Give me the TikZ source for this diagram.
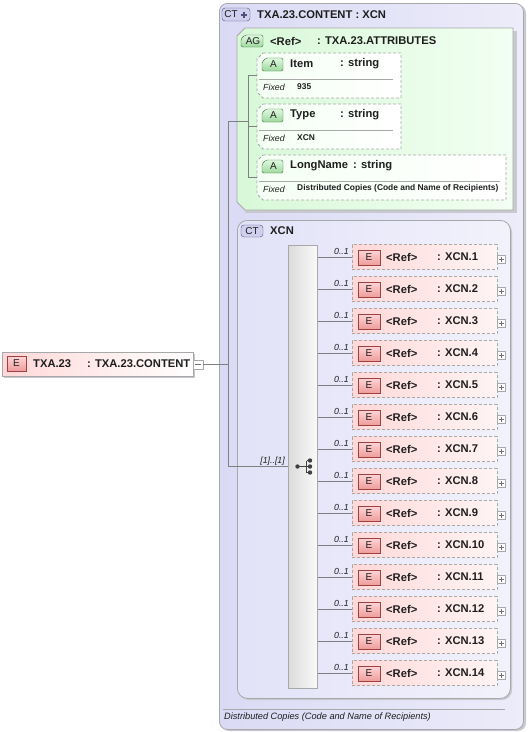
\documentclass[tikz,border=0pt]{standalone}
\usepackage{fontspec}
\setmainfont{Liberation Sans}
\usetikzlibrary{calc}
\definecolor{ctfill}{HTML}{DADAF5}
\definecolor{ctfillb}{HTML}{ECECFA}
\definecolor{xcnfill}{HTML}{E2E2F8}
\definecolor{xcnfillb}{HTML}{F2F2FC}
\definecolor{bordergray}{HTML}{A8A8A8}
\definecolor{shadowc}{HTML}{C8C8D0}
\definecolor{agfill}{HTML}{D8F8D8}
\definecolor{agfillb}{HTML}{F2FFF2}
\definecolor{atfill}{HTML}{F4FFF4}
\definecolor{efill}{HTML}{FFD8D8}
\definecolor{efillb}{HTML}{FFF4F4}
\definecolor{ebadge}{HTML}{F09C9C}
\definecolor{ebadgeb}{HTML}{FFD6D6}
\definecolor{ebadgeline}{HTML}{A04040}
\definecolor{abadge}{HTML}{9ED89E}
\definecolor{abadgeb}{HTML}{E0F8E0}
\definecolor{abadgeline}{HTML}{3C7A3C}
\definecolor{ctbadge}{HTML}{D0D0EE}
\definecolor{ctbadgeline}{HTML}{50507A}
\definecolor{linec}{HTML}{808080}
\definecolor{textc}{HTML}{1E1E1E}
\newcommand\chbox[7]{% name, x0, y0, x1, y1, chamfer, style
  \draw[#7] ({#2+#6},#3) -- (#4,#3) -- (#4,#5) -- ({#2+#6},#5) -- (#2,{#5-#6}) -- (#2,{#3+#6}) -- cycle;
  \node[inner sep=0, minimum width={#4-#2}, minimum height={#5-#3}, anchor=north west] (#1) at (#2,#3) {};
}
\newcommand\tabbadge[6]{% name, x0, y0, x1, y1, text
  \draw[draw=abadgeline, top color=abadgeb, bottom color=abadge, rounded corners=1.5] ({#2+4},#3) -- (#4,#3) -- (#4,#5) -- (#2,#5) -- (#2,{#3+4}) -- cycle;
  \node[badgetxt] (#1) at ({(#2+#4)/2+1},{(#3+#5)/2}) {#6};
}
\begin{document}
\begin{tikzpicture}[x=1pt,y=-1pt,
  lbl/.style={anchor=west, inner sep=0, font=\fontsize{11.2}{13}\selectfont\bfseries, text=textc},
  smallv/.style={anchor=west, inner sep=0, font=\fontsize{8.4}{10}\selectfont\bfseries, text=textc},
  fixedl/.style={anchor=west, inner sep=0, font=\fontsize{8.8}{10}\selectfont\itshape, text=textc},
  card/.style={anchor=east, inner sep=0, font=\fontsize{8.8}{10}\selectfont\itshape, text=textc},
  badgetxt/.style={inner sep=0, font=\fontsize{10}{11}\selectfont, text=textc},
  conn/.style={draw=linec, line width=0.7},
  ebox/.style={draw=bordergray, dash pattern=on 3pt off 2pt, left color=efill, right color=efillb, minimum width=145, minimum height=25, inner sep=0, line width=0.8},
  ebadgest/.style={draw=ebadgeline, top color=ebadgeb, bottom color=ebadge, minimum width=22, minimum height=15, inner sep=0, font=\fontsize{10}{11}\selectfont, text=textc},
  pmbox/.style={draw=bordergray, fill=white, minimum width=8, minimum height=8, inner sep=0, line width=0.5},
  atbox/.style={draw=bordergray, dash pattern=on 3pt off 2pt, left color=atfill, right color=white, line width=0.8},
]
\useasboundingbox (0,0) rectangle (528,732);
% outer complex type
\fill[shadowc, rounded corners=8] (221,5) rectangle (526,731);
\node[draw=bordergray, rounded corners=8, left color=ctfill, right color=ctfillb, minimum width=304, minimum height=726, inner sep=0, anchor=north west, line width=0.8] (ct) at (219,3) {};
\draw[draw=ctbadgeline, fill=ctbadge, rounded corners=3] (222,8) rectangle (250,21);
\node[badgetxt] (ctbt) at (231,14.5) {CT};
\draw[ctbadgeline, line width=2] (241,14.5) -- (247,14.5) (244,11.5) -- (244,17.5);
\node[lbl] (cttitle) at (257,14.5) {TXA.23.CONTENT : XCN};
% attribute group
\fill[shadowc] (245,31) -- (517,31) -- (517,213) -- (245,213) -- cycle;
\chbox{ag}{237}{28}{513}{210}{8}{draw=bordergray, left color=agfill, right color=agfillb, line width=0.8}
\tabbadge{agb}{241}{35}{263}{47}{AG}
\node[lbl] (agref) at (270,41) {<Ref>};
\node[lbl] (agtype) at (317,41) {: TXA.23.ATTRIBUTES};
% attributes
\chbox{item}{257}{53}{401}{98}{6}{atbox}
\tabbadge{itemb}{262}{58}{283}{71}{A}
\node[lbl] (itemn) at (290,64) {Item};
\node[lbl] (itemt) at (340,64) {: string};
\draw[bordergray] (259,79.5) -- (393,79.5);
\node[fixedl] (itemf) at (263,87) {Fixed};
\node[smallv] (itemv) at (297,86.5) {935};
\chbox{type}{257}{104}{401}{149}{6}{atbox}
\tabbadge{typeb}{262}{109}{283}{122}{A}
\node[lbl] (typen) at (290,115) {Type};
\node[lbl] (typet) at (340,115) {: string};
\draw[bordergray] (259,130.5) -- (393,130.5);
\node[fixedl] (typef) at (263,138) {Fixed};
\node[smallv] (typev) at (297,137.5) {XCN};
\chbox{long}{257}{155}{506}{200}{6}{atbox}
\tabbadge{longb}{262}{160}{283}{173}{A}
\node[lbl] (longn) at (290,166) {LongName};
\node[lbl] (longt) at (353,166) {: string};
\draw[bordergray] (259,181.5) -- (500,181.5);
\node[fixedl] (longf) at (263,189) {Fixed};
\node[smallv] (longv) at (297,188.5) {Distributed Copies (Code and Name of Recipients)};
% XCN complex type
\fill[shadowc, rounded corners=10] (239,222) rectangle (512,700);
\node[draw=bordergray, rounded corners=10, left color=xcnfill, right color=xcnfillb, minimum width=273, minimum height=478, inner sep=0, anchor=north west, line width=0.8] (xcn) at (237,220) {};
\draw[draw=ctbadgeline, fill=ctbadge, rounded corners=3] (241,225) rectangle (263,237);
\node[badgetxt] (xcnb) at (252,231) {CT};
\node[lbl] (xcnt) at (270,231) {XCN};
% sequence
\node[draw=bordergray, left color=black!14, right color=black!2, minimum width=29, minimum height=443, inner sep=0, anchor=north west, line width=0.6] (seq) at (288,245) {};
\coordinate (sq) at (seq.center |- 0,466.5);
\fill[black!75] (297.5,466.5) circle (2.2) (310,460.5) circle (2.2) (310,466.5) circle (2.2) (310,472.5) circle (2.2);
\draw[black!75, line width=0.9] (297.5,466.5) -- (306.5,466.5) (306.5,460.5) -- (306.5,472.5) (306.5,460.5) -- (310,460.5) (306.5,466.5) -- (310,466.5) (306.5,472.5) -- (310,472.5);
% elements
\foreach \i in {1,...,14}{
  \pgfmathsetmacro\c{257+32*(\i-1)}
  \node[ebox] (x\i) at (424.5,\c) {};
  \node[ebadgest] (e\i) at (369,\c+0.5) {E};
  \node[lbl] (r\i) at (386,\c) {<Ref>};
  \node[lbl] (t\i) at (437,\c) {: XCN.\i};
  \node[pmbox] (p\i) at (501,\c+2) {};
  \draw[black!55, line width=0.5] ($(p\i.center)+(-2.5,0)$) -- ($(p\i.center)+(2.5,0)$) ($(p\i.center)+(0,-2.5)$) -- ($(p\i.center)+(0,2.5)$);
  \draw[conn] (seq.east |- x\i.west) -- (x\i.west);
  \node[card] (c\i) at (349,\c-5.5) {0..1};
}
% top-level element
\fill[shadowc] (4,354) rectangle (195,378);
\node[draw=bordergray, left color=efill, right color=white, minimum width=191, minimum height=24, inner sep=0, anchor=north west, line width=0.8] (top) at (2,352) {};
\node[ebadgest, minimum width=19] (topb) at (16.5,363.5) {E};
\node[lbl] (topn) at (33,364) {TXA.23};
\node[lbl] (topt) at (87,364) {: TXA.23.CONTENT};
\node[pmbox, minimum width=10, minimum height=9] (minus) at (198,364.5) {};
\draw[black!55, line width=0.5] ($(minus.center)+(-3,0)$) -- ($(minus.center)+(3,0)$);
% connectors
\coordinate (jA) at (228,121);
\coordinate (jB) at (228,466.5);
\coordinate (jC) at (248,121);
\draw[conn] (minus.east) -- (minus.east -| jA);
\draw[conn] (jA) -- (jB) -- (sq -| seq.west);
\draw[conn] (jA) -- (jC);
\draw[conn] (item.west -| jC) -- (long.west -| jC);
\draw[conn] (item.west -| jC) -- (item.west);
\draw[conn] (type.west -| jC) -- (type.west);
\draw[conn] (long.west -| jC) -- (long.west);
\node[card] (seqc) at (285,461.5) {[1]..[1]};
% documentation
\draw[bordergray, line width=0.8] (223,709) -- (505,709);
\node[fixedl, font=\fontsize{9.2}{11}\selectfont\itshape] (doc) at (224,717.5) {Distributed Copies (Code and Name of Recipients)};
\end{tikzpicture}
\end{document}
